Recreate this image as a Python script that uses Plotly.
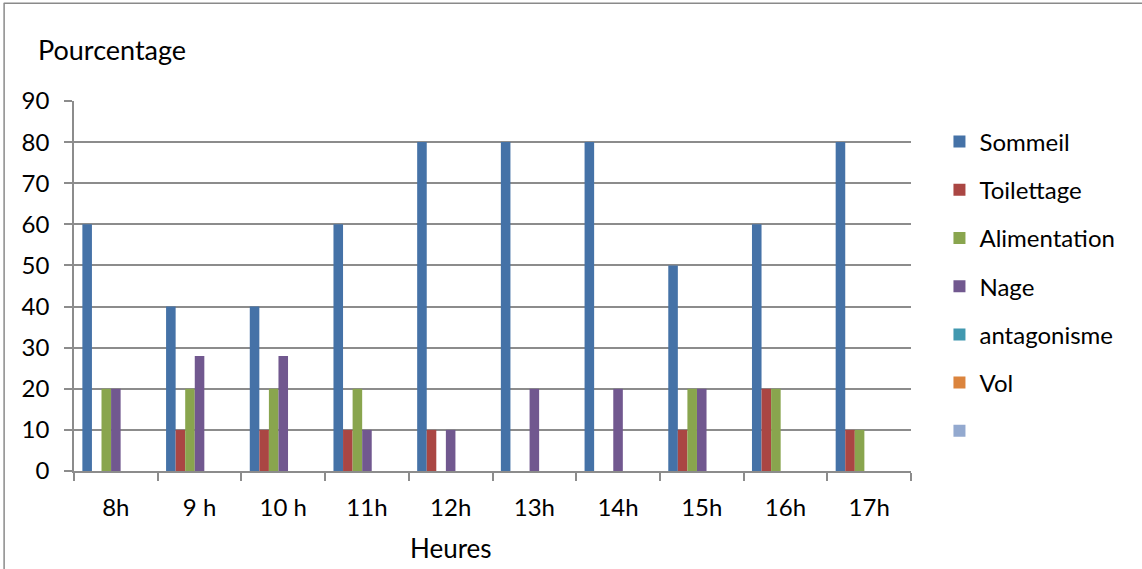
import plotly.graph_objects as go

# Heures d'observation
heures = ["8h", "9 h", "10 h", "11h", "12h", "13h", "14h", "15h", "16h", "17h"]

# Pourcentage du temps consacré à chaque activité
sommeil = [60, 40, 40, 60, 80, 80, 80, 50, 60, 80]
toilettage = [0, 10, 10, 10, 10, 0, 0, 10, 20, 10]
alimentation = [20, 20, 20, 20, 0, 0, 0, 20, 20, 10]
nage = [20, 28, 28, 10, 10, 20, 20, 20, 0, 0]
antagonisme = [0, 0, 0, 0, 0, 0, 0, 0, 0, 0]
vol = [0, 0, 0, 0, 0, 0, 0, 0, 0, 0]
sans_nom = [0, 0, 0, 0, 0, 0, 0, 0, 0, 0]

series = [
    ("Sommeil", sommeil, "#4572A7"),
    ("Toilettage", toilettage, "#AA4643"),
    ("Alimentation", alimentation, "#89A54E"),
    ("Nage", nage, "#71588F"),
    ("antagonisme", antagonisme, "#4198AF"),
    ("Vol", vol, "#DB843D"),
    (" ", sans_nom, "#93A9CF"),
]

FONT = "Lato, Carlito, Calibri, sans-serif"
GRID = "#8C8C8C"

fig = go.Figure()
for i, (name, vals, color) in enumerate(series):
    fig.add_trace(go.Bar(
        x=heures, y=vals, name=name,
        marker=dict(color=color, line=dict(width=0)),
        legendgroup=f"g{i}",
    ))

fig.update_layout(
    width=1142, height=569,
    margin=dict(l=74, r=231, t=101, b=98),
    paper_bgcolor="white", plot_bgcolor="white",
    barmode="group", bargap=0.2, bargroupgap=0,
    font=dict(family=FONT, size=24, color="black"),
    showlegend=True,
    legend=dict(
        x=1.034, xanchor="left", y=0.95, yanchor="top",
        font=dict(family=FONT, size=24, color="black"),
        tracegroupgap=14, itemwidth=30,
        bgcolor="rgba(0,0,0,0)",
    ),
    xaxis=dict(
        type="category",
        showline=True, linecolor=GRID, linewidth=1.5,
        ticks="outside", ticklen=8, tickcolor=GRID, tickwidth=1.5,
        tickson="boundaries", showgrid=False,
        tickfont=dict(family=FONT, size=24),
        ticklabelstandoff=14,
    ),
    yaxis=dict(
        range=[0, 90], dtick=10, tick0=0,
        showline=True, linecolor=GRID, linewidth=1.5,
        ticks="outside", ticklen=8, tickcolor=GRID, tickwidth=1.5,
        showgrid=True, gridcolor=GRID, gridwidth=1.5,
        zeroline=False,
        tickfont=dict(family=FONT, size=24),
        ticklabelstandoff=10,
    ),
    annotations=[
        dict(text="Pourcentage", xref="paper", yref="paper",
             x=-0.045, y=1.138, xanchor="left", yanchor="middle",
             showarrow=False, font=dict(family=FONT, size=27, color="black")),
        dict(text="Heures", xref="paper", yref="paper",
             x=0.45, y=-0.208, xanchor="center", yanchor="middle",
             showarrow=False, font=dict(family=FONT, size=26, color="black")),
    ],
    shapes=[
        dict(type="line", xref="paper", yref="paper",
             x0=-0.084, x1=1.3, y0=1.264, y1=1.264,
             line=dict(color="#8A8A8A", width=1.5)),
        dict(type="line", xref="paper", yref="paper",
             x0=-0.0835, x1=-0.0835, y0=1.264, y1=-0.27,
             line=dict(color="#8A8A8A", width=1.5)),
    ],
)

fig.write_html("out.html")
